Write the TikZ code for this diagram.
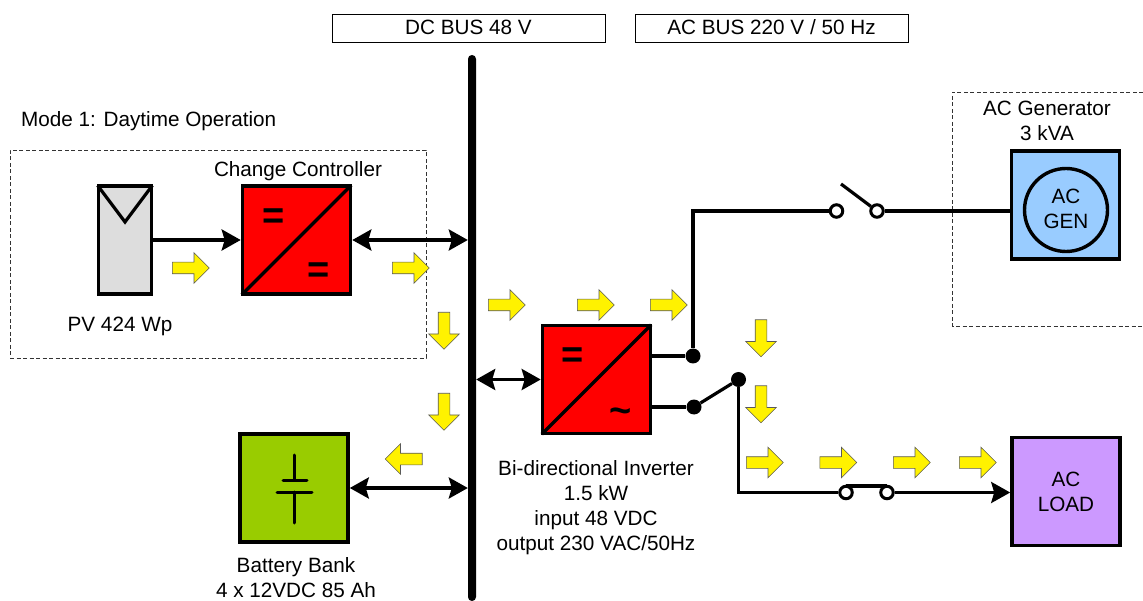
\documentclass[tikz,border=0pt]{standalone}
\usepackage{fontspec}
\setmainfont{Liberation Sans}
\usetikzlibrary{arrows.meta,shapes.arrows}
\definecolor{convred}{HTML}{FF0000}
\definecolor{battgreen}{HTML}{99CC00}
\definecolor{genblue}{HTML}{99CCFF}
\definecolor{loadpurple}{HTML}{CC99FF}
\definecolor{pvgray}{HTML}{DDDDDD}
\tikzset{
  every node/.style={font=\fontsize{20.7}{25}\selectfont, align=center, inner sep=0pt},
  busbox/.style={draw=black, line width=0.8pt, fill=white, minimum width=273pt, minimum height=28pt},
  block/.style={draw=black, line width=3.6pt, minimum width=108pt, minimum height=108pt},
  conv/.style={block, fill=convred},
  wire/.style={draw=black, line width=3.4pt},
  thinwire/.style={draw=black, line width=3.2pt},
  both/.style={wire, {Stealth[length=19pt,width=21pt,inset=3pt]}-{Stealth[length=19pt,width=21pt,inset=3pt]}},
  onearrow/.style={wire, -{Stealth[length=19pt,width=21pt,inset=3pt]}},
  flow/.style={single arrow, draw=black!65, line width=0.6pt, fill=yellow, anchor=tail,
    single arrow head extend=9.5pt, minimum width=30pt, minimum height=37pt, inner sep=5.5pt},
  dot/.style={circle, fill=black, minimum size=15pt},
  term/.style={circle, draw=black, line width=3pt, fill=white, minimum size=12.5pt},
  dashbox/.style={draw=black!80, line width=0.8pt, dashed, dash pattern=on 4pt off 2.5pt},
  sign/.style={font=\fontsize{38}{38}\selectfont\bfseries},
  diag/.style={line width=3.2pt, shorten <=1.5pt, shorten >=1.5pt},
}
\begin{document}
\begin{tikzpicture}[x=1pt,y=-1pt]
\useasboundingbox (0,0) rectangle (1143,601);
% dashed groups
\node[dashbox, minimum width=416pt, minimum height=208pt] (pvgroup) at (218,254) {};
\draw[dashbox] (1143,92) -- (952,92) -- (952,326) -- (1143,326);
% bus labels
\node[busbox] (dcbus) at (468.5,28) {\raisebox{1.5pt}{DC BUS 48 V}};
\node[busbox] (acbus) at (771.5,28) {\raisebox{1.5pt}{AC BUS 220 V / 50 Hz}};
\node[fill=black, minimum width=8pt, minimum height=546pt, rounded corners=3.9pt] (bus) at (472,328) {};
% texts
\node[anchor=west] (mode) at (21,121) {Mode 1: Daytime Operation};
\node (cclabel) at (298,171) {Change Controller};
\node (pvlabel) at (120,326.5) {PV 424 Wp};
\node (batlabel) at (296,577.5) {Battery Bank\\4 x 12VDC 85 Ah};
\node (invlabel) at (596,508) {Bi-directional Inverter\\1.5 kW\\input 48 VDC\\output 230 VAC/50Hz};
\node (genlabel) at (1047,120.5) {AC Generator\\3 kVA};
% PV
\node[draw=black, line width=3.6pt, fill=pvgray, minimum width=53pt, minimum height=108pt] (pv) at (125,240) {};
\draw[diag, line join=miter] (pv.north west) -- (125,222) -- (pv.north east);
% charge controller
\node[conv] (cc) at (296.5,240) {};
\draw[diag] (cc.south west) -- (cc.north east);
\node[sign] (cceq1) at (274,219) {=};
\node[sign] (cceq2) at (319,273) {=};
% inverter
\node[conv] (inv) at (596.5,379.5) {};
\draw[diag] (inv.south west) -- (inv.north east);
\node[sign] (inveq) at (573,358) {=};
\node[sign] (invac) at (621,416) {\char"007E};
% battery
\node[block, fill=battgreen] (bat) at (294,488) {};
\draw[line width=3pt, line cap=round] (294,455) -- (294,480);
\draw[line width=3pt, line cap=round] (283,480) -- (307,480);
\draw[line width=3pt, line cap=round] (277,492) -- (312,492);
\draw[line width=3pt, line cap=round] (294,492) -- (294,523);
% generator
\node[block, fill=genblue] (gen) at (1065.5,205) {};
\node[circle, draw=black, line width=3.4pt, minimum size=83pt] (gencirc) at (1066,210) {\raisebox{2.5pt}{AC}\\\raisebox{2.5pt}{GEN}};
% load
\node[block, fill=loadpurple] (load) at (1066,491.5) {AC\\LOAD};
% junctions and terminals
\node[dot] (d1) at (693,356) {};
\node[dot] (d2) at (694,407) {};
\node[dot] (d3) at (738.5,379.5) {};
\coordinate (corner1) at (693,211);
\coordinate (corner2) at (738.5,492.5);
\coordinate (blade1) at (841,184);
\coordinate (bridgeL) at (846,486);
\coordinate (bridgeR) at (887,486);
\node[term] (t1) at (836.5,211) {};
\node[term] (t2) at (877,211) {};
\node[term] (t3) at (846,492.5) {};
\node[term] (t4) at (887,492.5) {};
% connectors
\draw[onearrow] (pv) -- (cc);
\draw[both] (cc.east) -- (cc.east -| bus.west);
\draw[both] (inv.west) -- (inv.west -| bus.east);
\draw[both] (bat.east) -- (bat.east -| bus.west);
\draw[thinwire] (inv.east |- d1) -- (d1);
\draw[thinwire] (inv.east |- d2) -- (d2);
\draw[thinwire] (d1) -- (corner1) -- (t1);
\draw[thinwire] (t2) -- (t2 -| gen.west);
\draw[thinwire] (t2) -- (blade1);
\draw[thinwire] (d2) -- (d3);
\draw[thinwire] (d3) -- (corner2) -- (t3);
\draw[thinwire] (t3.north) -- (bridgeL) -- (bridgeR) -- (t4.north);
\draw[onearrow, line width=3.2pt] (t4) -- (t4 -| load.west);
% flow arrows
\node[flow] (f1) at (172,268) {};
\node[flow] (f2) at (392,268) {};
\node[flow] (f3) at (488,305) {};
\node[flow] (f4) at (577,305) {};
\node[flow] (f5) at (650,305) {};
\node[flow] (f6) at (746,462.5) {};
\node[flow] (f7) at (819.5,462.5) {};
\node[flow] (f8) at (893,462.5) {};
\node[flow] (f9) at (959,462.5) {};
\node[flow, shape border rotate=270] (f10) at (444,312) {};
\node[flow, shape border rotate=270] (f11) at (444,393) {};
\node[flow, shape border rotate=270] (f12) at (761,319.5) {};
\node[flow, shape border rotate=270] (f13) at (761,385.5) {};
\node[flow, shape border rotate=180] (f14) at (422.5,459) {};
\end{tikzpicture}
\end{document}
